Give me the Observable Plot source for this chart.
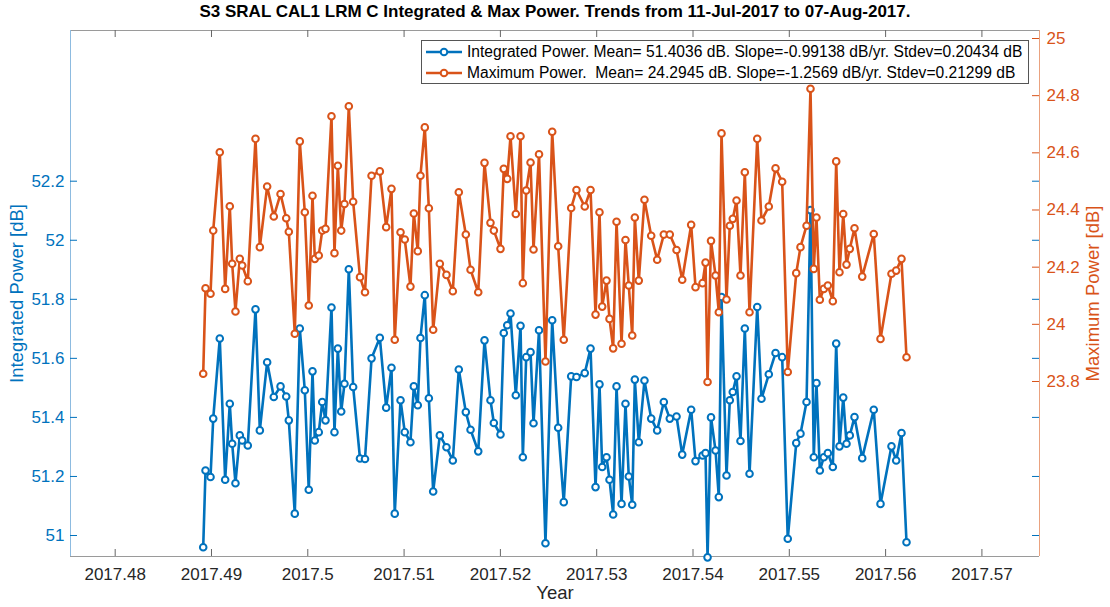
<!DOCTYPE html>
<html>
<head>
<meta charset="utf-8">
<script src="https://cdn.jsdelivr.net/npm/d3@7"></script>
<script src="https://cdn.jsdelivr.net/npm/@observablehq/plot@0.6"></script>
<style>
  body { margin: 0; background: #fff; font-family: "Liberation Sans", Arial, sans-serif; }
  #wrap { position: relative; width: 1110px; height: 607px; overflow: hidden; }
  #title { position: absolute; left: 0; top: 0; width: 1110px; height: 24px; line-height: 24px;
           text-align: center; font-weight: bold; font-size: 17px; color: #000; }
  #chart { position: absolute; left: 0; top: 24px; }
  #legend { position: absolute; left: 421px; top: 40px; width: 606px; height: 42px;
            border: 1px solid #555; background: #fff; font-size: 15.6px; color: #000; }
  .row { position: absolute; left: 2px; height: 20px; display: flex; align-items: center; white-space: nowrap; }
  .row svg { margin-right: 3px; }
</style>
</head>
<body>
<div id="wrap">
  <div id="title"></div>
  <div id="chart"></div>
  <div id="legend"></div>
</div>
<script>
// ---- data ----
const years = [
  2017.48914, 2017.48938, 2017.48990, 2017.49018, 2017.49086, 2017.49142, 2017.49190, 2017.49215, 2017.49249, 2017.49294,
  2017.49319, 2017.49377, 2017.49457, 2017.49502, 2017.49578, 2017.49647, 2017.49717, 2017.49776, 2017.49803, 2017.49865,
  2017.49917, 2017.49969, 2017.50010, 2017.50049, 2017.50073, 2017.50114, 2017.50150, 2017.50184, 2017.50246, 2017.50277,
  2017.50312, 2017.50347, 2017.50381, 2017.50426, 2017.50471, 2017.50542, 2017.50594, 2017.50662, 2017.50748, 2017.50814,
  2017.50869, 2017.50903, 2017.50963, 2017.51007, 2017.51066, 2017.51101, 2017.51142, 2017.51170, 2017.51215, 2017.51257,
  2017.51302, 2017.51371, 2017.51440, 2017.51506, 2017.51568, 2017.51641, 2017.51690, 2017.51770, 2017.51835, 2017.51897,
  2017.51932, 2017.52001, 2017.52035, 2017.52071, 2017.52105, 2017.52160, 2017.52209, 2017.52233, 2017.52268, 2017.52313,
  2017.52344, 2017.52401, 2017.52468, 2017.52538, 2017.52600, 2017.52658, 2017.52735, 2017.52790, 2017.52876, 2017.52936,
  2017.52988, 2017.53029, 2017.53057, 2017.53102, 2017.53133, 2017.53171, 2017.53206, 2017.53258, 2017.53299, 2017.53333,
  2017.53369, 2017.53396, 2017.53437, 2017.53496, 2017.53566, 2017.53628, 2017.53697, 2017.53759, 2017.53829, 2017.53888,
  2017.53981, 2017.54026, 2017.54099, 2017.54130, 2017.54151, 2017.54187, 2017.54234, 2017.54268, 2017.54296, 2017.54348,
  2017.54382, 2017.54413, 2017.54452, 2017.54493, 2017.54538, 2017.54587, 2017.54667, 2017.54711, 2017.54787, 2017.54857,
  2017.54926, 2017.54984, 2017.55072, 2017.55116, 2017.55179, 2017.55220, 2017.55254, 2017.55282, 2017.55317, 2017.55358,
  2017.55400, 2017.55452, 2017.55487, 2017.55521, 2017.55560, 2017.55594, 2017.55628, 2017.55677, 2017.55757, 2017.55877,
  2017.55947, 2017.56061, 2017.56110, 2017.56165, 2017.56217
];
const integratedPower = [
  50.960, 51.220, 51.198, 51.396, 51.667, 51.189, 51.446, 51.311, 51.177, 51.339,
  51.322, 51.305, 51.766, 51.356, 51.587, 51.469, 51.505, 51.471, 51.390, 51.074,
  51.701, 51.492, 51.155, 51.556, 51.322, 51.350, 51.452, 51.390, 51.772, 51.350,
  51.633, 51.420, 51.514, 51.902, 51.503, 51.261, 51.259, 51.600, 51.670, 51.433,
  51.568, 51.074, 51.458, 51.350, 51.316, 51.505, 51.441, 51.669, 51.814, 51.465,
  51.149, 51.339, 51.299, 51.254, 51.562, 51.418, 51.358, 51.285, 51.661, 51.458,
  51.381, 51.342, 51.686, 51.712, 51.752, 51.475, 51.710, 51.265, 51.604, 51.621,
  51.380, 51.695, 50.974, 51.729, 51.365, 51.113, 51.539, 51.537, 51.550, 51.633,
  51.164, 51.512, 51.232, 51.265, 51.189, 51.071, 51.505, 51.107, 51.446, 51.200,
  51.104, 51.528, 51.316, 51.525, 51.396, 51.356, 51.452, 51.396, 51.403, 51.274,
  51.426, 51.252, 51.271, 51.279, 50.926, 51.400, 51.288, 51.130, 51.808, 51.203,
  51.458, 51.486, 51.539, 51.320, 51.701, 51.209, 51.774, 51.463, 51.546, 51.618,
  51.604, 50.989, 51.313, 51.345, 51.452, 52.102, 51.265, 51.516, 51.220, 51.265,
  51.279, 51.232, 51.650, 51.302, 51.467, 51.311, 51.339, 51.401, 51.262, 51.426,
  51.107, 51.302, 51.254, 51.347, 50.977
];
const maximumPower = [
  23.827, 24.126, 24.107, 24.328, 24.602, 24.124, 24.413, 24.212, 24.045, 24.229,
  24.206, 24.151, 24.649, 24.270, 24.482, 24.377, 24.456, 24.371, 24.324, 23.967,
  24.640, 24.392, 24.066, 24.450, 24.229, 24.241, 24.328, 24.334, 24.728, 24.249,
  24.555, 24.328, 24.421, 24.763, 24.429, 24.165, 24.112, 24.520, 24.535, 24.340,
  24.474, 23.946, 24.322, 24.297, 24.132, 24.388, 24.256, 24.520, 24.689, 24.406,
  23.981, 24.212, 24.173, 24.116, 24.462, 24.314, 24.191, 24.112, 24.565, 24.355,
  24.328, 24.264, 24.544, 24.509, 24.658, 24.386, 24.658, 24.144, 24.468, 24.566,
  24.262, 24.595, 23.870, 24.674, 24.273, 23.946, 24.407, 24.470, 24.412, 24.470,
  24.034, 24.392, 24.062, 24.153, 24.019, 23.916, 24.359, 23.932, 24.295, 24.136,
  23.961, 24.374, 24.153, 24.436, 24.310, 24.226, 24.314, 24.314, 24.260, 24.156,
  24.348, 24.130, 24.144, 24.216, 23.798, 24.292, 24.171, 24.042, 24.668, 24.087,
  24.345, 24.369, 24.433, 24.171, 24.532, 24.042, 24.649, 24.363, 24.412, 24.546,
  24.499, 23.833, 24.179, 24.270, 24.345, 24.824, 24.194, 24.374, 24.086, 24.124,
  24.136, 24.081, 24.570, 24.182, 24.386, 24.209, 24.264, 24.336, 24.167, 24.316,
  23.949, 24.177, 24.188, 24.229, 23.885
];
const xTicks = [2017.48, 2017.49, 2017.50, 2017.51, 2017.52, 2017.53, 2017.54, 2017.55, 2017.56, 2017.57];
const leftTicks = [51, 51.2, 51.4, 51.6, 51.8, 52, 52.2];
const rightTicks = [23.8, 24, 24.2, 24.4, 24.6, 24.8, 25];
const titleText = "S3 SRAL CAL1 LRM C Integrated & Max Power. Trends from 11-Jul-2017 to 07-Aug-2017.";
const seriesNames = [
  "Integrated Power. Mean= 51.4036 dB. Slope=-0.99138 dB/yr. Stdev=0.20434 dB",
  "Maximum Power.  Mean= 24.2945 dB. Slope=-1.2569 dB/yr. Stdev=0.21299 dB"
];
const xLabel = "Year";
const leftLabel = "Integrated Power [dB]";
const rightLabel = "Maximum Power [dB]";

// ---- scales / layout ----
const xDomain = [2017.47536, 2017.57598];
const leftDomain = [50.9289, 52.7104];
const rightDomain = [23.1877, 25.028];
const k = (leftDomain[1] - leftDomain[0]) / (rightDomain[1] - rightDomain[0]);
const toLeft = v => leftDomain[0] + (v - rightDomain[0]) * k;
const fromLeft = v => rightDomain[0] + (v - leftDomain[0]) / k;

const BLUE = "#0072BD", ORANGE = "#D95319";
const W = 1110, H = 583, ML = 70, MR = 71, MT = 6, MB = 51;
const PW = W - ML - MR, PH = H - MT - MB;
const TL = 7;

const blueData = years.map((t, i) => ({t, v: integratedPower[i]}));
const orangeData = years.map((t, i) => ({t, v: toLeft(maximumPower[i])}));
const fmt = d => String(+d.toFixed(2));

const chart = Plot.plot({
  width: W, height: H,
  marginLeft: ML, marginRight: MR, marginTop: MT, marginBottom: MB,
  style: {fontFamily: "Liberation Sans, Arial, sans-serif", fontSize: "17px", background: "white", overflow: "visible"},
  x: {domain: xDomain, axis: null},
  y: {domain: leftDomain, axis: null},
  marks: [
    Plot.ruleY([leftDomain[0]], {stroke: "#9a9a9a"}),
    Plot.ruleY([leftDomain[1]], {stroke: "#9a9a9a"}),
    Plot.ruleX([xDomain[0]], {stroke: "#8dbbe0"}),
    Plot.ruleX([xDomain[1]], {stroke: "#eaa27f"}),
    Plot.tickX(xTicks, {x: d => d, stroke: "#666", insetTop: PH - TL}),
    Plot.tickX(xTicks, {x: d => d, stroke: "#666", insetBottom: PH - TL}),
    Plot.tickY(leftTicks, {y: d => d, stroke: BLUE, insetRight: PW - TL}),
    Plot.tickY(leftTicks, {y: d => d, stroke: BLUE, insetLeft: PW - TL}),
    Plot.tickY(rightTicks.map(toLeft), {y: d => d, stroke: ORANGE, insetLeft: PW - TL}),
    Plot.axisX({ticks: xTicks, tickSize: 0, tickPadding: 11, tickFormat: fmt, fill: "#262626", fontSize: 17, label: null}),
    Plot.axisY({anchor: "left", ticks: leftTicks, tickSize: 0, tickPadding: 6, tickFormat: fmt, fill: BLUE, fontSize: 17, label: null}),
    Plot.axisY({anchor: "right", ticks: rightTicks.map(toLeft), tickSize: 0, tickPadding: 7,
                tickFormat: d => String(+fromLeft(d).toFixed(1)), fill: ORANGE, fontSize: 17, label: null}),
    Plot.line(blueData, {x: "t", y: "v", stroke: BLUE, strokeWidth: 2.6}),
    Plot.dot(blueData, {x: "t", y: "v", r: 3.3, stroke: BLUE, fill: "white", strokeWidth: 2}),
    Plot.line(orangeData, {x: "t", y: "v", stroke: ORANGE, strokeWidth: 2.6}),
    Plot.dot(orangeData, {x: "t", y: "v", r: 3.3, stroke: ORANGE, fill: "white", strokeWidth: 2}),
    Plot.text([xLabel], {frameAnchor: "bottom", dy: 42, fill: "#262626", fontSize: 18.5}),
    Plot.text([leftLabel], {frameAnchor: "left", dx: -53, rotate: -90, textAnchor: "middle", fill: BLUE, fontSize: 18.5}),
    Plot.text([rightLabel], {frameAnchor: "right", dx: 54, rotate: -90, textAnchor: "middle", fill: ORANGE, fontSize: 18.5})
  ]
});
document.getElementById("chart").appendChild(chart);
document.getElementById("title").textContent = titleText;

const legend = document.getElementById("legend");
[BLUE, ORANGE].forEach((c, i) => {
  const row = document.createElement("div");
  row.className = "row";
  row.style.top = (1 + i * 21) + "px";
  row.innerHTML = `<svg width="40" height="20"><line x1="2" x2="38" y1="10" y2="10" stroke="${c}" stroke-width="2.6"/>` +
    `<circle cx="20" cy="10" r="3.3" fill="white" stroke="${c}" stroke-width="2"/></svg>`;
  const span = document.createElement("span");
  span.textContent = seriesNames[i];
  span.style.whiteSpace = "pre";
  row.appendChild(span);
  legend.appendChild(row);
});
</script>
</body>
</html>
